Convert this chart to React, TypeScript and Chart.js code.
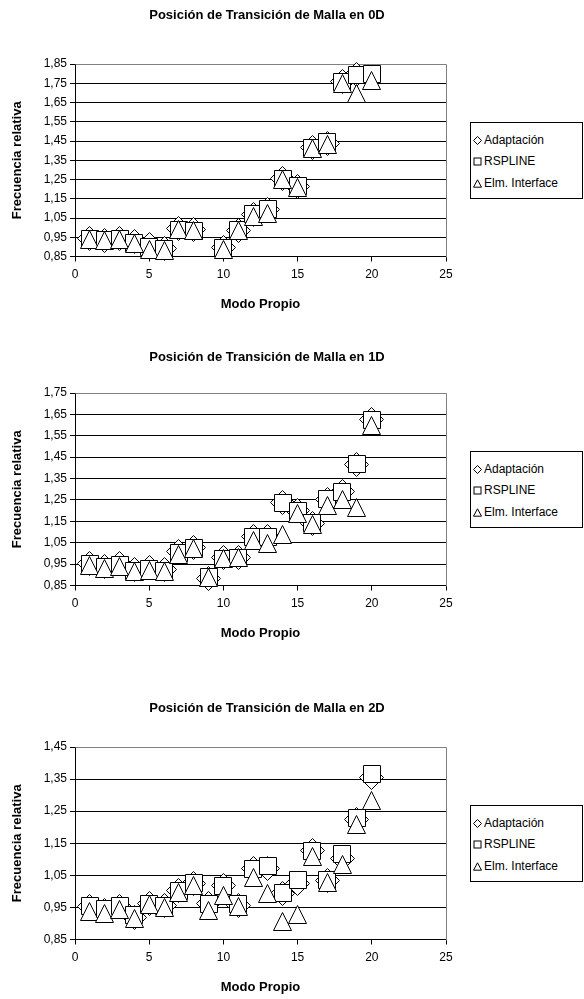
import React, { useEffect, useRef } from "react";
import { Chart, registerables } from "chart.js";

Chart.register(...registerables);

// ---------------- data ----------------
const modes = [1, 2, 3, 4, 5, 6, 7, 8, 9, 10, 11, 12, 13, 14, 15, 16, 17, 18, 19, 20];
const xTicks = [0, 5, 10, 15, 20, 25];
const yTicks0D = [0.85, 0.95, 1.05, 1.15, 1.25, 1.35, 1.45, 1.55, 1.65, 1.75, 1.85];
const yTicks1D = [0.85, 0.95, 1.05, 1.15, 1.25, 1.35, 1.45, 1.55, 1.65, 1.75];
const yTicks2D = [0.85, 0.95, 1.05, 1.15, 1.25, 1.35, 1.45];
const seriesNames = ["Adaptación", "RSPLINE", "Elm. Interface"];
const xTitle = "Modo Propio";
const yTitle = "Frecuencia relativa";

// 0D
const adapt0D = [0.945, 0.935, 0.945, 0.928, 0.91, 0.893, 0.993, 0.988, null, 0.898, 0.985, 1.07, 1.095, 1.255, 1.215, 1.417, 1.438, 1.757, 1.795, null];
const rspline0D = [0.942, 0.937, 0.94, 0.92, 0.898, 0.89, 0.99, 0.985, null, 0.895, 0.988, 1.07, 1.095, 1.252, 1.214, 1.416, 1.446, 1.758, 1.793, 1.797];
const elm0D = [0.94, 0.932, 0.938, 0.917, 0.888, 0.883, 0.988, 0.984, null, 0.884, 0.986, 1.06, 1.075, 1.25, 1.208, 1.41, 1.43, 1.75, 1.698, 1.763];

// 1D
const adapt1D = [0.955, 0.94, 0.952, 0.924, 0.933, 0.924, 1.007, 1.03, 0.885, 0.98, 0.98, 1.077, 1.077, 1.24, 1.2, 1.14, 1.25, 1.289, 1.417, 1.625];
const rspline1D = [0.95, 0.938, 0.944, 0.92, 0.926, 0.919, 1.002, 1.027, 0.888, 0.975, 0.978, 1.075, 1.075, 1.235, 1.2, 1.14, 1.256, 1.287, 1.417, 1.622];
const elm1D = [0.944, 0.93, 0.938, 0.914, 0.92, 0.917, 0.997, 1.024, 0.886, 0.977, 0.98, 1.061, 1.047, 1.088, 1.187, 1.135, 1.223, 1.252, 1.216, 1.6];

// 2D
const adapt2D = [0.954, 0.94, 0.954, 0.92, 0.962, 0.955, 1.003, 1.024, 0.962, 1.019, 0.956, 1.07, 1.071, 0.993, 1.024, 1.128, 1.035, 1.102, 1.225, 1.355];
const rspline2D = [0.954, 0.944, 0.954, 0.925, 0.96, 0.954, 1.001, 1.027, 0.962, 1.017, 0.96, 1.07, 1.08, 0.996, 1.034, 1.126, 1.035, 1.116, 1.228, 1.366];
const elm2D = [0.936, 0.93, 0.942, 0.915, 0.96, 0.951, 0.997, 1.019, 0.939, 0.986, 0.954, 1.043, 0.994, 0.907, 0.928, 1.109, 1.028, 1.085, 1.207, 1.283];

const FONT = "'Liberation Sans', Arial, Helvetica, sans-serif";

// ---------------- marker images ----------------
function makeMarker(kind: string): HTMLCanvasElement {
  const c = document.createElement("canvas");
  const size = kind === "diamond" ? 25 : kind === "square" ? 18 : 19;
  c.width = size;
  c.height = size;
  const ctx = c.getContext("2d")!;
  ctx.fillStyle = "#ffffff";
  ctx.strokeStyle = "#000000";
  ctx.lineWidth = 1;
  ctx.beginPath();
  const m = size / 2;
  const e = size - 0.5;
  if (kind === "diamond") {
    ctx.moveTo(m, 0.5);
    ctx.lineTo(e, m);
    ctx.lineTo(m, e);
    ctx.lineTo(0.5, m);
  } else if (kind === "square") {
    ctx.rect(0.5, 0.5, size - 1, size - 1);
  } else {
    ctx.moveTo(m, 0.5);
    ctx.lineTo(e, e);
    ctx.lineTo(0.5, e);
  }
  ctx.closePath();
  ctx.fill();
  ctx.stroke();
  return c;
}

const borderPlugin = {
  id: "plotBorder",
  beforeDatasetsDraw(chart: any) {
    const { ctx, chartArea } = chart;
    ctx.save();
    ctx.strokeStyle = "#808080";
    ctx.lineWidth = 1;
    ctx.beginPath();
    const r = Math.round(chartArea.right) + 0.5;
    const t = Math.round(chartArea.top) + 0.5;
    ctx.moveTo(Math.round(chartArea.left) + 0.5, t);
    ctx.lineTo(r, t);
    ctx.lineTo(r, Math.round(chartArea.bottom) + 0.5);
    ctx.stroke();
    ctx.restore();
    ctx.save();
    ctx.imageSmoothingEnabled = false;
  },
  afterDatasetsDraw(chart: any) {
    chart.ctx.restore();
  },
};

type PanelProps = {
  top: number;
  title: string;
  titleY: number;
  yTicks: number[];
  series: (number | null)[][];
  legendTop: number;
};

const CANVAS_H = 316;

function Panel({ top, title, titleY, yTicks, series, legendTop }: PanelProps) {
  const ref = useRef<HTMLCanvasElement | null>(null);

  useEffect(() => {
    if (!ref.current) return;
    const markers = [makeMarker("diamond"), makeMarker("square"), makeMarker("triangle")];
    const orders = [3, 2, 1];
    const yMin = yTicks[0];
    const yMax = yTicks[yTicks.length - 1];
    const chart = new Chart(ref.current, {
      type: "scatter",
      data: {
        datasets: series.map((vals, si) => ({
          label: seriesNames[si],
          data: modes
            .map((m, i) => ({ x: m, y: vals[i] }))
            .filter((p) => p.y !== null) as any,
          pointStyle: markers[si] as any,
          pointRadius: 9,
          order: orders[si],
          clip: false as any,
          showLine: false,
        })),
      },
      options: {
        animation: false,
        responsive: false,
        maintainAspectRatio: false,
        events: [],
        layout: { padding: { left: 0, top: 64, right: 138, bottom: 3.5 } },
        plugins: {
          legend: { display: false },
          title: { display: false },
          tooltip: { enabled: false },
        },
        scales: {
          x: {
            type: "linear",
            min: 0,
            max: 25,
            afterBuildTicks: (s: any) => {
              s.ticks = xTicks.map((v) => ({ value: v }));
            },
            afterFit: (s: any) => {
              s.height = 56;
            },
            ticks: {
              autoSkip: false,
              maxRotation: 0,
              padding: 6,
              color: "#000",
              font: { family: FONT, size: 12 },
              callback: (v: any) => String(v),
            },
            grid: { drawOnChartArea: false, drawTicks: true, tickLength: 5, color: "#000", lineWidth: 1 },
            border: { display: true, color: "#000", width: 1 },
            title: {
              display: true,
              text: xTitle,
              color: "#000",
              font: { family: FONT, size: 13, weight: "bold" },
              padding: { top: 0, bottom: 0 },
            },
          },
          y: {
            type: "linear",
            min: yMin,
            max: yMax,
            afterBuildTicks: (s: any) => {
              s.ticks = yTicks.map((v) => ({ value: v }));
            },
            afterFit: (s: any) => {
              s.width = 75;
            },
            ticks: {
              autoSkip: false,
              padding: 3,
              color: "#000",
              font: { family: FONT, size: 12 },
              callback: (v: any) => Number(v).toFixed(2).replace(".", ","),
            },
            grid: {
              drawTicks: true,
              tickLength: 5,
              lineWidth: 1,
              tickColor: "#000",
              color: (c: any) => (c.tick && Math.abs(c.tick.value - yMax) < 1e-9 ? "#808080" : "#000"),
            },
            border: { display: true, color: "#000", width: 1 },
            title: {
              display: true,
              text: yTitle,
              color: "#000",
              font: { family: FONT, size: 13, weight: "bold" },
              padding: { top: 10, bottom: 0 },
            },
          },
        },
      },
      plugins: [borderPlugin],
    });
    return () => chart.destroy();
  }, []);

  const legendItems = [
    { name: seriesNames[0], kind: "diamond" },
    { name: seriesNames[1], kind: "square" },
    { name: seriesNames[2], kind: "triangle" },
  ];
  const itemY = [17, 38, 60];

  return (
    <>
      <canvas
        ref={ref}
        width={584}
        height={CANVAS_H}
        style={{ position: "absolute", left: 0, top, width: 584, height: CANVAS_H }}
      />
      <div
        style={{
          position: "absolute",
          left: 67,
          width: 400,
          top: titleY - 9,
          height: 18,
          lineHeight: "18px",
          textAlign: "center",
          fontFamily: FONT,
          fontWeight: "bold",
          fontSize: 13,
          color: "#000",
          whiteSpace: "nowrap",
        }}
      >
        {title}
      </div>
      <div
        style={{
          position: "absolute",
          left: 470,
          top: legendTop,
          width: 113,
          height: 77,
          border: "1px solid #000",
          boxSizing: "border-box",
          background: "#fff",
          fontFamily: FONT,
          fontSize: 12,
          color: "#000",
        }}
      >
        {legendItems.map((it, i) => (
          <div
            key={i}
            style={{
              position: "absolute",
              left: 0,
              top: itemY[i] - 8,
              height: 16,
              lineHeight: "16px",
              whiteSpace: "nowrap",
            }}
          >
            <svg width={9} height={9} style={{ position: "absolute", left: 2, top: 3.5 }}>
              {it.kind === "diamond" && <polygon points="4.5,0.5 8.5,4.5 4.5,8.5 0.5,4.5" fill="#fff" stroke="#000" strokeWidth={1} />}
              {it.kind === "square" && <rect x={1} y={1} width={7} height={7} fill="#fff" stroke="#000" strokeWidth={1} />}
              {it.kind === "triangle" && <polygon points="4.5,0.8 8.5,8.2 0.5,8.2" fill="#fff" stroke="#000" strokeWidth={1} />}
            </svg>
            <span style={{ position: "absolute", left: 13, top: 0 }}>{it.name}</span>
          </div>
        ))}
      </div>
    </>
  );
}

export default function App() {
  useEffect(() => {
    document.body.style.margin = "0";
    document.body.style.overflow = "hidden";
  }, []);
  return (
    <div style={{ position: "absolute", left: 0, top: 0, width: 584, height: 999, overflow: "hidden", background: "#fff" }}>
      <Panel
        top={0}
        title="Posición de Transición de Malla en 0D"
        titleY={15}
        yTicks={yTicks0D}
        series={[adapt0D, rspline0D, elm0D]}
        legendTop={122}
      />
      <Panel
        top={329}
        title="Posición de Transición de Malla en 1D"
        titleY={357}
        yTicks={yTicks1D}
        series={[adapt1D, rspline1D, elm1D]}
        legendTop={451}
      />
      <Panel
        top={683}
        title="Posición de Transición de Malla en 2D"
        titleY={708}
        yTicks={yTicks2D}
        series={[adapt2D, rspline2D, elm2D]}
        legendTop={805}
      />
    </div>
  );
}
